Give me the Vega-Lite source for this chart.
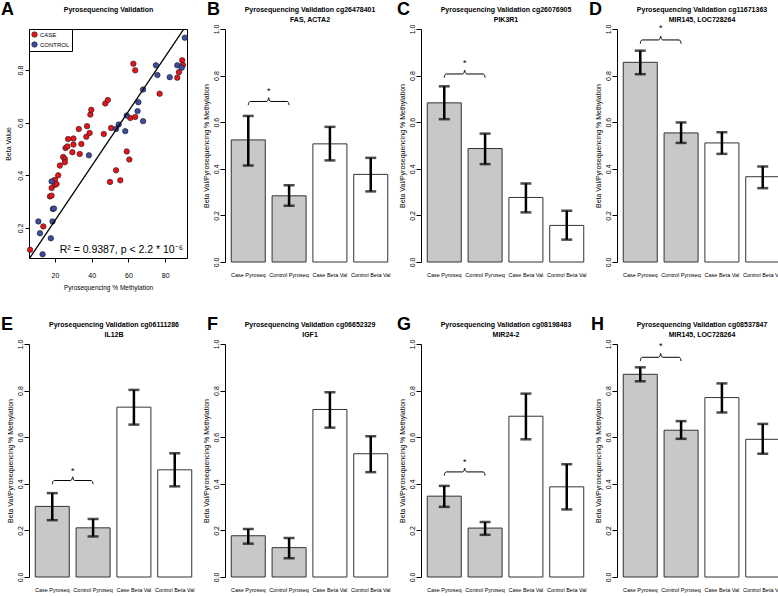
{
  "$schema": "https://vega.github.io/schema/vega-lite/v6.json",
  "background": "white",
  "padding": {"left": 0, "top": 0, "right": 0, "bottom": 0},
  "config": {
    "view": {"stroke": null},
    "font": "Liberation Sans",
    "title": {"font": "Liberation Sans", "fontSize": 18, "fontWeight": "bold", "anchor": "start", "frame": "bounds", "offset": 0, "dy": 18, "color": "black", "baseline": "alphabetic"},
    "axis": {"domainColor": "black", "tickColor": "black", "labelColor": "black", "titleColor": "black", "grid": false, "labelFont": "Liberation Sans", "labelFontSize": 7, "titleFont": "Liberation Sans", "titleFontSize": 7, "titleFontWeight": "normal", "tickSize": 5, "domainWidth": 1, "tickWidth": 1},
    "axisBand": {"domain": false, "ticks": false, "labelPadding": 10, "labelAngle": 0, "labelFont": "Liberation Sans", "labelFontSize": 5.5},
    "axisY": {"labelAngle": -90, "labelPadding": 1, "titlePadding": 3},
    "axisTop": {"labels": false, "ticks": false, "domain": false, "titlePadding": 7, "titleFont": "Liberation Sans", "titleFontSize": 7, "titleFontWeight": "bold", "titleLineHeight": 10, "titleAnchor": "middle"}
  },
  "columns": 4,
  "bounds": "flush",
  "align": "all",
  "spacing": {"row": 82, "column": 27},
  "concat": [
    {
      "title": {"text": "A", "dx": -3},
      "width": 158,
      "height": 229,
      "view": {"stroke": "black", "strokeWidth": 1},
      "resolve": {"scale": {"x": "independent"}, "axis": {"x": "independent"}},
      "layer": [
        {
          "layer": [
            {
              "data": {"values": [
                {"pyro": 6.5, "beta": 0.117, "status": "CASE"},
                {"pyro": 13.7, "beta": 0.206, "status": "CASE"},
                {"pyro": 17.3, "beta": 0.32, "status": "CASE"},
                {"pyro": 18.2, "beta": 0.323, "status": "CASE"},
                {"pyro": 18.2, "beta": 0.352, "status": "CASE"},
                {"pyro": 20, "beta": 0.364, "status": "CASE"},
                {"pyro": 20, "beta": 0.383, "status": "CASE"},
                {"pyro": 20.9, "beta": 0.367, "status": "CASE"},
                {"pyro": 21.8, "beta": 0.4, "status": "CASE"},
                {"pyro": 22.7, "beta": 0.437, "status": "CASE"},
                {"pyro": 24.5, "beta": 0.47, "status": "CASE"},
                {"pyro": 25.4, "beta": 0.462, "status": "CASE"},
                {"pyro": 25.4, "beta": 0.45, "status": "CASE"},
                {"pyro": 25.8, "beta": 0.504, "status": "CASE"},
                {"pyro": 26.8, "beta": 0.51, "status": "CASE"},
                {"pyro": 27.2, "beta": 0.538, "status": "CASE"},
                {"pyro": 29.5, "beta": 0.488, "status": "CASE"},
                {"pyro": 30.1, "beta": 0.517, "status": "CASE"},
                {"pyro": 30.1, "beta": 0.54, "status": "CASE"},
                {"pyro": 33, "beta": 0.576, "status": "CASE"},
                {"pyro": 33.5, "beta": 0.481, "status": "CASE"},
                {"pyro": 34.4, "beta": 0.519, "status": "CASE"},
                {"pyro": 37.1, "beta": 0.547, "status": "CASE"},
                {"pyro": 37.5, "beta": 0.587, "status": "CASE"},
                {"pyro": 38.9, "beta": 0.561, "status": "CASE"},
                {"pyro": 39.3, "beta": 0.631, "status": "CASE"},
                {"pyro": 39.8, "beta": 0.649, "status": "CASE"},
                {"pyro": 46.6, "beta": 0.557, "status": "CASE"},
                {"pyro": 47.4, "beta": 0.673, "status": "CASE"},
                {"pyro": 48.8, "beta": 0.686, "status": "CASE"},
                {"pyro": 50, "beta": 0.375, "status": "CASE"},
                {"pyro": 50.6, "beta": 0.58, "status": "CASE"},
                {"pyro": 53.3, "beta": 0.419, "status": "CASE"},
                {"pyro": 55.6, "beta": 0.381, "status": "CASE"},
                {"pyro": 59.1, "beta": 0.491, "status": "CASE"},
                {"pyro": 60.5, "beta": 0.46, "status": "CASE"},
                {"pyro": 61, "beta": 0.618, "status": "CASE"},
                {"pyro": 63.7, "beta": 0.622, "status": "CASE"},
                {"pyro": 62.7, "beta": 0.824, "status": "CASE"},
                {"pyro": 63.7, "beta": 0.799, "status": "CASE"},
                {"pyro": 77, "beta": 0.71, "status": "CASE"},
                {"pyro": 86.6, "beta": 0.771, "status": "CASE"},
                {"pyro": 87.5, "beta": 0.792, "status": "CASE"},
                {"pyro": 89.3, "beta": 0.837, "status": "CASE"},
                {"pyro": 89.7, "beta": 0.819, "status": "CASE"},
                {"pyro": 11, "beta": 0.225, "status": "CONTROL"},
                {"pyro": 11.9, "beta": 0.18, "status": "CONTROL"},
                {"pyro": 13.3, "beta": 0.1, "status": "CONTROL"},
                {"pyro": 17.8, "beta": 0.161, "status": "CONTROL"},
                {"pyro": 18.7, "beta": 0.225, "status": "CONTROL"},
                {"pyro": 18.9, "beta": 0.272, "status": "CONTROL"},
                {"pyro": 19.5, "beta": 0.274, "status": "CONTROL"},
                {"pyro": 18.2, "beta": 0.377, "status": "CONTROL"},
                {"pyro": 38.5, "beta": 0.476, "status": "CONTROL"},
                {"pyro": 53.3, "beta": 0.576, "status": "CONTROL"},
                {"pyro": 54.7, "beta": 0.593, "status": "CONTROL"},
                {"pyro": 58.3, "beta": 0.568, "status": "CONTROL"},
                {"pyro": 59.1, "beta": 0.627, "status": "CONTROL"},
                {"pyro": 65, "beta": 0.644, "status": "CONTROL"},
                {"pyro": 65.4, "beta": 0.678, "status": "CONTROL"},
                {"pyro": 68, "beta": 0.606, "status": "CONTROL"},
                {"pyro": 68, "beta": 0.726, "status": "CONTROL"},
                {"pyro": 75, "beta": 0.818, "status": "CONTROL"},
                {"pyro": 75.8, "beta": 0.781, "status": "CONTROL"},
                {"pyro": 82.5, "beta": 0.773, "status": "CONTROL"},
                {"pyro": 86.6, "beta": 0.818, "status": "CONTROL"},
                {"pyro": 89, "beta": 0.809, "status": "CONTROL"},
                {"pyro": 90.7, "beta": 0.923, "status": "CONTROL"}
              ]},
              "mark": {"type": "circle", "size": 30, "opacity": 1, "stroke": "#1a1a1a", "strokeWidth": 0.6},
              "encoding": {
                "x": {"field": "pyro", "type": "quantitative", "title": "Pyrosequencing % Methylation", "scale": {"domain": [5.9, 91.9], "nice": false, "zero": false}, "axis": {"values": [20, 40, 60, 80], "domain": false, "tickSize": 4, "labelPadding": 9, "labelAngle": 0, "titlePadding": 6, "titleFontSize": 6.5}},
                "y": {"field": "beta", "type": "quantitative", "title": "Beta Value", "scale": {"domain": [0.086, 0.956], "nice": false, "zero": false}, "axis": {"values": [0.2, 0.4, 0.6, 0.8], "format": ".1f", "domain": false, "tickSize": 4, "labelPadding": 2, "titlePadding": 5}},
                "color": {"field": "status", "type": "nominal", "scale": {"domain": ["CASE", "CONTROL"], "range": ["#e8131b", "#3c4ca2"]}, "legend": {"orient": "top-left", "offset": 0, "title": null, "strokeColor": "black", "fillColor": "white", "padding": 2, "symbolSize": 30, "symbolType": "circle", "symbolStrokeColor": "#1a1a1a", "symbolStrokeWidth": 0.6, "labelFontSize": 6, "labelFont": "Liberation Sans", "rowPadding": 1, "labelOffset": 2}}
              }
            },
            {
              "data": {"values": [{"pyro": 4, "beta": 0.062}, {"pyro": 92, "beta": 0.975}]},
              "mark": {"type": "line", "color": "black", "strokeWidth": 1.3, "clip": true},
              "encoding": {
                "x": {"field": "pyro", "type": "quantitative", "title": "Pyrosequencing % Methylation"},
                "y": {"field": "beta", "type": "quantitative", "title": "Beta Value"}
              }
            },
            {
              "data": {"values": [{"pyro": 89.7, "beta": 0.105, "label": "R² = 0.9387, p < 2.2 * 10⁻⁶"}]},
              "mark": {"type": "text", "align": "right", "baseline": "alphabetic", "fontSize": 10.5, "font": "Liberation Sans"},
              "encoding": {
                "x": {"field": "pyro", "type": "quantitative", "title": "Pyrosequencing % Methylation"},
                "y": {"field": "beta", "type": "quantitative", "title": "Beta Value"},
                "text": {"field": "label"}
              }
            }
          ]
        },
        {
          "data": {"values": []},
          "mark": "text",
          "encoding": {"x": {"field": "t", "type": "quantitative", "title": "Pyrosequencing Validation", "scale": {"domain": [0, 1]}, "axis": {"orient": "top", "titlePadding": 17}}}
        }
      ]
    },
    {
      "title": {"text": "B", "dx": 5},
      "width": 169, "height": 233,
      "resolve": {"scale": {"x": "independent"}, "axis": {"x": "independent"}},
      "layer": [
        {
          "data": {"values": [
            {"group": "Case Pyroseq", "method": "Pyroseq", "mean": 0.524, "lo": 0.414, "hi": 0.627},
            {"group": "Control Pyroseq", "method": "Pyroseq", "mean": 0.284, "lo": 0.241, "hi": 0.329},
            {"group": "Case Beta Val", "method": "Beta Val", "mean": 0.507, "lo": 0.436, "hi": 0.58},
            {"group": "Control Beta Val", "method": "Beta Val", "mean": 0.376, "lo": 0.303, "hi": 0.447}
          ]},
          "layer": [
            {"mark": {"type": "bar", "stroke": "#333333", "strokeWidth": 1}, "encoding": {
              "x": {"field": "group", "type": "nominal", "sort": null, "title": null, "scale": {"paddingInner": 0.1667, "paddingOuter": 0.1533}},
              "y": {"field": "mean", "type": "quantitative", "title": "Beta Val/Pyrosequencing % Methylation", "scale": {"domain": [0, 1], "nice": false}, "axis": {"values": [0, 0.2, 0.4, 0.6, 0.8, 1], "format": ".1f"}},
              "color": {"condition": {"test": "datum.method === 'Pyroseq'", "value": "#c8c8c8"}, "value": "#ffffff"}}},
            {"mark": {"type": "rule", "strokeWidth": 2.5, "color": "black"}, "encoding": {
              "x": {"field": "group", "type": "nominal", "sort": null, "title": null},
              "y": {"field": "lo", "type": "quantitative", "title": "Beta Val/Pyrosequencing % Methylation"}, "y2": {"field": "hi"}}},
            {"mark": {"type": "tick", "thickness": 2.5, "size": 11, "color": "black"}, "encoding": {
              "x": {"field": "group", "type": "nominal", "sort": null, "title": null},
              "y": {"field": "lo", "type": "quantitative", "title": "Beta Val/Pyrosequencing % Methylation"}}},
            {"mark": {"type": "tick", "thickness": 2.5, "size": 11, "color": "black"}, "encoding": {
              "x": {"field": "group", "type": "nominal", "sort": null, "title": null},
              "y": {"field": "hi", "type": "quantitative", "title": "Beta Val/Pyrosequencing % Methylation"}}}
          ]
        },
        {
          "layer": [
            {"data": {"values": [
              {"bx": 0.70, "by": 0.673}, {"bx": 0.72, "by": 0.685}, {"bx": 0.76, "by": 0.689}, {"bx": 1.24, "by": 0.689}, {"bx": 1.28, "by": 0.695}, {"bx": 1.30, "by": 0.705}, {"bx": 1.32, "by": 0.695}, {"bx": 1.36, "by": 0.689}, {"bx": 1.84, "by": 0.689}, {"bx": 1.88, "by": 0.685}, {"bx": 1.90, "by": 0.673}
            ]},
              "mark": {"type": "line", "color": "black", "strokeWidth": 1, "interpolate": "monotone"},
              "encoding": {"x": {"field": "bx", "type": "quantitative", "title": ["Pyrosequencing Validation cg26478401", "FAS, ACTA2"], "scale": {"domain": [0.016, 4.984], "nice": false, "zero": false}, "axis": {"orient": "top"}},
                "y": {"field": "by", "type": "quantitative", "title": "Beta Val/Pyrosequencing % Methylation", "scale": {"domain": [0, 1], "nice": false}}}},
            {"data": {"values": [{"bx": 1.3, "by": 0.732, "label": "*"}]},
              "mark": {"type": "text", "fontSize": 9, "baseline": "middle"},
              "encoding": {"x": {"field": "bx", "type": "quantitative"}, "y": {"field": "by", "type": "quantitative", "title": "Beta Val/Pyrosequencing % Methylation"}, "text": {"field": "label"}}}
          ]
        }
      ]
    },
    {
      "title": {"text": "C", "dx": -1},
      "width": 169, "height": 233,
      "resolve": {"scale": {"x": "independent"}, "axis": {"x": "independent"}},
      "layer": [
        {
          "data": {"values": [
            {"group": "Case Pyroseq", "method": "Pyroseq", "mean": 0.683, "lo": 0.613, "hi": 0.754},
            {"group": "Control Pyroseq", "method": "Pyroseq", "mean": 0.487, "lo": 0.42, "hi": 0.551},
            {"group": "Case Beta Val", "method": "Beta Val", "mean": 0.277, "lo": 0.213, "hi": 0.337},
            {"group": "Control Beta Val", "method": "Beta Val", "mean": 0.157, "lo": 0.096, "hi": 0.22}
          ]},
          "layer": [
            {"mark": {"type": "bar", "stroke": "#333333", "strokeWidth": 1}, "encoding": {
              "x": {"field": "group", "type": "nominal", "sort": null, "title": null, "scale": {"paddingInner": 0.1667, "paddingOuter": 0.1533}},
              "y": {"field": "mean", "type": "quantitative", "title": "Beta Val/Pyrosequencing % Methylation", "scale": {"domain": [0, 1], "nice": false}, "axis": {"values": [0, 0.2, 0.4, 0.6, 0.8, 1], "format": ".1f"}},
              "color": {"condition": {"test": "datum.method === 'Pyroseq'", "value": "#c8c8c8"}, "value": "#ffffff"}}},
            {"mark": {"type": "rule", "strokeWidth": 2.5, "color": "black"}, "encoding": {
              "x": {"field": "group", "type": "nominal", "sort": null, "title": null},
              "y": {"field": "lo", "type": "quantitative", "title": "Beta Val/Pyrosequencing % Methylation"}, "y2": {"field": "hi"}}},
            {"mark": {"type": "tick", "thickness": 2.5, "size": 11, "color": "black"}, "encoding": {
              "x": {"field": "group", "type": "nominal", "sort": null, "title": null},
              "y": {"field": "lo", "type": "quantitative", "title": "Beta Val/Pyrosequencing % Methylation"}}},
            {"mark": {"type": "tick", "thickness": 2.5, "size": 11, "color": "black"}, "encoding": {
              "x": {"field": "group", "type": "nominal", "sort": null, "title": null},
              "y": {"field": "hi", "type": "quantitative", "title": "Beta Val/Pyrosequencing % Methylation"}}}
          ]
        },
        {
          "layer": [
            {"data": {"values": [
              {"bx": 0.70, "by": 0.791}, {"bx": 0.72, "by": 0.803}, {"bx": 0.76, "by": 0.807}, {"bx": 1.24, "by": 0.807}, {"bx": 1.28, "by": 0.813}, {"bx": 1.30, "by": 0.823}, {"bx": 1.32, "by": 0.813}, {"bx": 1.36, "by": 0.807}, {"bx": 1.84, "by": 0.807}, {"bx": 1.88, "by": 0.803}, {"bx": 1.90, "by": 0.791}
            ]},
              "mark": {"type": "line", "color": "black", "strokeWidth": 1, "interpolate": "monotone"},
              "encoding": {"x": {"field": "bx", "type": "quantitative", "title": ["Pyrosequencing Validation cg26076905", "PIK3R1"], "scale": {"domain": [0.016, 4.984], "nice": false, "zero": false}, "axis": {"orient": "top"}},
                "y": {"field": "by", "type": "quantitative", "title": "Beta Val/Pyrosequencing % Methylation", "scale": {"domain": [0, 1], "nice": false}}}},
            {"data": {"values": [{"bx": 1.3, "by": 0.852, "label": "*"}]},
              "mark": {"type": "text", "fontSize": 9, "baseline": "middle"},
              "encoding": {"x": {"field": "bx", "type": "quantitative"}, "y": {"field": "by", "type": "quantitative", "title": "Beta Val/Pyrosequencing % Methylation"}, "text": {"field": "label"}}}
          ]
        }
      ]
    },
    {
      "title": {"text": "D", "dx": -5},
      "width": 169, "height": 233,
      "resolve": {"scale": {"x": "independent"}, "axis": {"x": "independent"}},
      "layer": [
        {
          "data": {"values": [
            {"group": "Case Pyroseq", "method": "Pyroseq", "mean": 0.857, "lo": 0.806, "hi": 0.907},
            {"group": "Control Pyroseq", "method": "Pyroseq", "mean": 0.554, "lo": 0.511, "hi": 0.599},
            {"group": "Case Beta Val", "method": "Beta Val", "mean": 0.511, "lo": 0.464, "hi": 0.557},
            {"group": "Control Beta Val", "method": "Beta Val", "mean": 0.366, "lo": 0.317, "hi": 0.41}
          ]},
          "layer": [
            {"mark": {"type": "bar", "stroke": "#333333", "strokeWidth": 1}, "encoding": {
              "x": {"field": "group", "type": "nominal", "sort": null, "title": null, "scale": {"paddingInner": 0.1667, "paddingOuter": 0.1533}},
              "y": {"field": "mean", "type": "quantitative", "title": "Beta Val/Pyrosequencing % Methylation", "scale": {"domain": [0, 1], "nice": false}, "axis": {"values": [0, 0.2, 0.4, 0.6, 0.8, 1], "format": ".1f"}},
              "color": {"condition": {"test": "datum.method === 'Pyroseq'", "value": "#c8c8c8"}, "value": "#ffffff"}}},
            {"mark": {"type": "rule", "strokeWidth": 2.5, "color": "black"}, "encoding": {
              "x": {"field": "group", "type": "nominal", "sort": null, "title": null},
              "y": {"field": "lo", "type": "quantitative", "title": "Beta Val/Pyrosequencing % Methylation"}, "y2": {"field": "hi"}}},
            {"mark": {"type": "tick", "thickness": 2.5, "size": 11, "color": "black"}, "encoding": {
              "x": {"field": "group", "type": "nominal", "sort": null, "title": null},
              "y": {"field": "lo", "type": "quantitative", "title": "Beta Val/Pyrosequencing % Methylation"}}},
            {"mark": {"type": "tick", "thickness": 2.5, "size": 11, "color": "black"}, "encoding": {
              "x": {"field": "group", "type": "nominal", "sort": null, "title": null},
              "y": {"field": "hi", "type": "quantitative", "title": "Beta Val/Pyrosequencing % Methylation"}}}
          ]
        },
        {
          "layer": [
            {"data": {"values": [
              {"bx": 0.70, "by": 0.937}, {"bx": 0.72, "by": 0.949}, {"bx": 0.76, "by": 0.953}, {"bx": 1.24, "by": 0.953}, {"bx": 1.28, "by": 0.959}, {"bx": 1.30, "by": 0.969}, {"bx": 1.32, "by": 0.959}, {"bx": 1.36, "by": 0.953}, {"bx": 1.84, "by": 0.953}, {"bx": 1.88, "by": 0.949}, {"bx": 1.90, "by": 0.937}
            ]},
              "mark": {"type": "line", "color": "black", "strokeWidth": 1, "interpolate": "monotone"},
              "encoding": {"x": {"field": "bx", "type": "quantitative", "title": ["Pyrosequencing Validation cg11671363", "MIR145, LOC728264"], "scale": {"domain": [0.016, 4.984], "nice": false, "zero": false}, "axis": {"orient": "top"}},
                "y": {"field": "by", "type": "quantitative", "title": "Beta Val/Pyrosequencing % Methylation", "scale": {"domain": [0, 1], "nice": false}}}},
            {"data": {"values": [{"bx": 1.3, "by": 1.005, "label": "*"}]},
              "mark": {"type": "text", "fontSize": 9, "baseline": "middle"},
              "encoding": {"x": {"field": "bx", "type": "quantitative"}, "y": {"field": "by", "type": "quantitative", "title": "Beta Val/Pyrosequencing % Methylation"}, "text": {"field": "label"}}}
          ]
        }
      ]
    },
    {
      "title": {"text": "E", "dx": -5},
      "width": 169, "height": 233,
      "resolve": {"scale": {"x": "independent"}, "axis": {"x": "independent"}},
      "layer": [
        {
          "data": {"values": [
            {"group": "Case Pyroseq", "method": "Pyroseq", "mean": 0.303, "lo": 0.244, "hi": 0.36},
            {"group": "Control Pyroseq", "method": "Pyroseq", "mean": 0.211, "lo": 0.174, "hi": 0.249},
            {"group": "Case Beta Val", "method": "Beta Val", "mean": 0.729, "lo": 0.654, "hi": 0.803},
            {"group": "Control Beta Val", "method": "Beta Val", "mean": 0.46, "lo": 0.389, "hi": 0.531}
          ]},
          "layer": [
            {"mark": {"type": "bar", "stroke": "#333333", "strokeWidth": 1}, "encoding": {
              "x": {"field": "group", "type": "nominal", "sort": null, "title": null, "scale": {"paddingInner": 0.1667, "paddingOuter": 0.1533}},
              "y": {"field": "mean", "type": "quantitative", "title": "Beta Val/Pyrosequencing % Methylation", "scale": {"domain": [0, 1], "nice": false}, "axis": {"values": [0, 0.2, 0.4, 0.6, 0.8, 1], "format": ".1f"}},
              "color": {"condition": {"test": "datum.method === 'Pyroseq'", "value": "#c8c8c8"}, "value": "#ffffff"}}},
            {"mark": {"type": "rule", "strokeWidth": 2.5, "color": "black"}, "encoding": {
              "x": {"field": "group", "type": "nominal", "sort": null, "title": null},
              "y": {"field": "lo", "type": "quantitative", "title": "Beta Val/Pyrosequencing % Methylation"}, "y2": {"field": "hi"}}},
            {"mark": {"type": "tick", "thickness": 2.5, "size": 11, "color": "black"}, "encoding": {
              "x": {"field": "group", "type": "nominal", "sort": null, "title": null},
              "y": {"field": "lo", "type": "quantitative", "title": "Beta Val/Pyrosequencing % Methylation"}}},
            {"mark": {"type": "tick", "thickness": 2.5, "size": 11, "color": "black"}, "encoding": {
              "x": {"field": "group", "type": "nominal", "sort": null, "title": null},
              "y": {"field": "hi", "type": "quantitative", "title": "Beta Val/Pyrosequencing % Methylation"}}}
          ]
        },
        {
          "layer": [
            {"data": {"values": [
              {"bx": 0.70, "by": 0.398}, {"bx": 0.72, "by": 0.41}, {"bx": 0.76, "by": 0.414}, {"bx": 1.24, "by": 0.414}, {"bx": 1.28, "by": 0.42}, {"bx": 1.30, "by": 0.43}, {"bx": 1.32, "by": 0.42}, {"bx": 1.36, "by": 0.414}, {"bx": 1.84, "by": 0.414}, {"bx": 1.88, "by": 0.41}, {"bx": 1.90, "by": 0.398}
            ]},
              "mark": {"type": "line", "color": "black", "strokeWidth": 1, "interpolate": "monotone"},
              "encoding": {"x": {"field": "bx", "type": "quantitative", "title": ["Pyrosequencing Validation cg06111286", "IL12B"], "scale": {"domain": [0.016, 4.984], "nice": false, "zero": false}, "axis": {"orient": "top"}},
                "y": {"field": "by", "type": "quantitative", "title": "Beta Val/Pyrosequencing % Methylation", "scale": {"domain": [0, 1], "nice": false}}}},
            {"data": {"values": [{"bx": 1.3, "by": 0.455, "label": "*"}]},
              "mark": {"type": "text", "fontSize": 9, "baseline": "middle"},
              "encoding": {"x": {"field": "bx", "type": "quantitative"}, "y": {"field": "by", "type": "quantitative", "title": "Beta Val/Pyrosequencing % Methylation"}, "text": {"field": "label"}}}
          ]
        }
      ]
    },
    {
      "title": {"text": "F", "dx": 5},
      "width": 169, "height": 233,
      "resolve": {"scale": {"x": "independent"}, "axis": {"x": "independent"}},
      "layer": [
        {
          "data": {"values": [
            {"group": "Case Pyroseq", "method": "Pyroseq", "mean": 0.177, "lo": 0.143, "hi": 0.206},
            {"group": "Control Pyroseq", "method": "Pyroseq", "mean": 0.126, "lo": 0.081, "hi": 0.167},
            {"group": "Case Beta Val", "method": "Beta Val", "mean": 0.719, "lo": 0.641, "hi": 0.793},
            {"group": "Control Beta Val", "method": "Beta Val", "mean": 0.529, "lo": 0.45, "hi": 0.604}
          ]},
          "layer": [
            {"mark": {"type": "bar", "stroke": "#333333", "strokeWidth": 1}, "encoding": {
              "x": {"field": "group", "type": "nominal", "sort": null, "title": null, "scale": {"paddingInner": 0.1667, "paddingOuter": 0.1533}},
              "y": {"field": "mean", "type": "quantitative", "title": "Beta Val/Pyrosequencing % Methylation", "scale": {"domain": [0, 1], "nice": false}, "axis": {"values": [0, 0.2, 0.4, 0.6, 0.8, 1], "format": ".1f"}},
              "color": {"condition": {"test": "datum.method === 'Pyroseq'", "value": "#c8c8c8"}, "value": "#ffffff"}}},
            {"mark": {"type": "rule", "strokeWidth": 2.5, "color": "black"}, "encoding": {
              "x": {"field": "group", "type": "nominal", "sort": null, "title": null},
              "y": {"field": "lo", "type": "quantitative", "title": "Beta Val/Pyrosequencing % Methylation"}, "y2": {"field": "hi"}}},
            {"mark": {"type": "tick", "thickness": 2.5, "size": 11, "color": "black"}, "encoding": {
              "x": {"field": "group", "type": "nominal", "sort": null, "title": null},
              "y": {"field": "lo", "type": "quantitative", "title": "Beta Val/Pyrosequencing % Methylation"}}},
            {"mark": {"type": "tick", "thickness": 2.5, "size": 11, "color": "black"}, "encoding": {
              "x": {"field": "group", "type": "nominal", "sort": null, "title": null},
              "y": {"field": "hi", "type": "quantitative", "title": "Beta Val/Pyrosequencing % Methylation"}}}
          ]
        },
        {
          "data": {"values": []},
          "mark": "text",
          "encoding": {"x": {"field": "bx", "type": "quantitative", "title": ["Pyrosequencing Validation cg06652329", "IGF1"], "scale": {"domain": [0.016, 4.984], "nice": false, "zero": false}, "axis": {"orient": "top"}}}
        }
      ]
    },
    {
      "title": {"text": "G", "dx": -1},
      "width": 169, "height": 233,
      "resolve": {"scale": {"x": "independent"}, "axis": {"x": "independent"}},
      "layer": [
        {
          "data": {"values": [
            {"group": "Case Pyroseq", "method": "Pyroseq", "mean": 0.347, "lo": 0.301, "hi": 0.391},
            {"group": "Control Pyroseq", "method": "Pyroseq", "mean": 0.21, "lo": 0.181, "hi": 0.236},
            {"group": "Case Beta Val", "method": "Beta Val", "mean": 0.69, "lo": 0.591, "hi": 0.787},
            {"group": "Control Beta Val", "method": "Beta Val", "mean": 0.387, "lo": 0.29, "hi": 0.484}
          ]},
          "layer": [
            {"mark": {"type": "bar", "stroke": "#333333", "strokeWidth": 1}, "encoding": {
              "x": {"field": "group", "type": "nominal", "sort": null, "title": null, "scale": {"paddingInner": 0.1667, "paddingOuter": 0.1533}},
              "y": {"field": "mean", "type": "quantitative", "title": "Beta Val/Pyrosequencing % Methylation", "scale": {"domain": [0, 1], "nice": false}, "axis": {"values": [0, 0.2, 0.4, 0.6, 0.8, 1], "format": ".1f"}},
              "color": {"condition": {"test": "datum.method === 'Pyroseq'", "value": "#c8c8c8"}, "value": "#ffffff"}}},
            {"mark": {"type": "rule", "strokeWidth": 2.5, "color": "black"}, "encoding": {
              "x": {"field": "group", "type": "nominal", "sort": null, "title": null},
              "y": {"field": "lo", "type": "quantitative", "title": "Beta Val/Pyrosequencing % Methylation"}, "y2": {"field": "hi"}}},
            {"mark": {"type": "tick", "thickness": 2.5, "size": 11, "color": "black"}, "encoding": {
              "x": {"field": "group", "type": "nominal", "sort": null, "title": null},
              "y": {"field": "lo", "type": "quantitative", "title": "Beta Val/Pyrosequencing % Methylation"}}},
            {"mark": {"type": "tick", "thickness": 2.5, "size": 11, "color": "black"}, "encoding": {
              "x": {"field": "group", "type": "nominal", "sort": null, "title": null},
              "y": {"field": "hi", "type": "quantitative", "title": "Beta Val/Pyrosequencing % Methylation"}}}
          ]
        },
        {
          "layer": [
            {"data": {"values": [
              {"bx": 0.70, "by": 0.435}, {"bx": 0.72, "by": 0.447}, {"bx": 0.76, "by": 0.451}, {"bx": 1.24, "by": 0.451}, {"bx": 1.28, "by": 0.457}, {"bx": 1.30, "by": 0.467}, {"bx": 1.32, "by": 0.457}, {"bx": 1.36, "by": 0.451}, {"bx": 1.84, "by": 0.451}, {"bx": 1.88, "by": 0.447}, {"bx": 1.90, "by": 0.435}
            ]},
              "mark": {"type": "line", "color": "black", "strokeWidth": 1, "interpolate": "monotone"},
              "encoding": {"x": {"field": "bx", "type": "quantitative", "title": ["Pyrosequencing Validation cg08198483", "MIR24-2"], "scale": {"domain": [0.016, 4.984], "nice": false, "zero": false}, "axis": {"orient": "top"}},
                "y": {"field": "by", "type": "quantitative", "title": "Beta Val/Pyrosequencing % Methylation", "scale": {"domain": [0, 1], "nice": false}}}},
            {"data": {"values": [{"bx": 1.3, "by": 0.495, "label": "*"}]},
              "mark": {"type": "text", "fontSize": 9, "baseline": "middle"},
              "encoding": {"x": {"field": "bx", "type": "quantitative"}, "y": {"field": "by", "type": "quantitative", "title": "Beta Val/Pyrosequencing % Methylation"}, "text": {"field": "label"}}}
          ]
        }
      ]
    },
    {
      "title": {"text": "H", "dx": -3},
      "width": 169, "height": 233,
      "resolve": {"scale": {"x": "independent"}, "axis": {"x": "independent"}},
      "layer": [
        {
          "data": {"values": [
            {"group": "Case Pyroseq", "method": "Pyroseq", "mean": 0.87, "lo": 0.84, "hi": 0.9},
            {"group": "Control Pyroseq", "method": "Pyroseq", "mean": 0.63, "lo": 0.593, "hi": 0.669},
            {"group": "Case Beta Val", "method": "Beta Val", "mean": 0.77, "lo": 0.706, "hi": 0.831},
            {"group": "Control Beta Val", "method": "Beta Val", "mean": 0.591, "lo": 0.529, "hi": 0.657}
          ]},
          "layer": [
            {"mark": {"type": "bar", "stroke": "#333333", "strokeWidth": 1}, "encoding": {
              "x": {"field": "group", "type": "nominal", "sort": null, "title": null, "scale": {"paddingInner": 0.1667, "paddingOuter": 0.1533}},
              "y": {"field": "mean", "type": "quantitative", "title": "Beta Val/Pyrosequencing % Methylation", "scale": {"domain": [0, 1], "nice": false}, "axis": {"values": [0, 0.2, 0.4, 0.6, 0.8, 1], "format": ".1f"}},
              "color": {"condition": {"test": "datum.method === 'Pyroseq'", "value": "#c8c8c8"}, "value": "#ffffff"}}},
            {"mark": {"type": "rule", "strokeWidth": 2.5, "color": "black"}, "encoding": {
              "x": {"field": "group", "type": "nominal", "sort": null, "title": null},
              "y": {"field": "lo", "type": "quantitative", "title": "Beta Val/Pyrosequencing % Methylation"}, "y2": {"field": "hi"}}},
            {"mark": {"type": "tick", "thickness": 2.5, "size": 11, "color": "black"}, "encoding": {
              "x": {"field": "group", "type": "nominal", "sort": null, "title": null},
              "y": {"field": "lo", "type": "quantitative", "title": "Beta Val/Pyrosequencing % Methylation"}}},
            {"mark": {"type": "tick", "thickness": 2.5, "size": 11, "color": "black"}, "encoding": {
              "x": {"field": "group", "type": "nominal", "sort": null, "title": null},
              "y": {"field": "hi", "type": "quantitative", "title": "Beta Val/Pyrosequencing % Methylation"}}}
          ]
        },
        {
          "layer": [
            {"data": {"values": [
              {"bx": 0.70, "by": 0.927}, {"bx": 0.72, "by": 0.939}, {"bx": 0.76, "by": 0.943}, {"bx": 1.24, "by": 0.943}, {"bx": 1.28, "by": 0.949}, {"bx": 1.30, "by": 0.959}, {"bx": 1.32, "by": 0.949}, {"bx": 1.36, "by": 0.943}, {"bx": 1.84, "by": 0.943}, {"bx": 1.88, "by": 0.939}, {"bx": 1.90, "by": 0.927}
            ]},
              "mark": {"type": "line", "color": "black", "strokeWidth": 1, "interpolate": "monotone"},
              "encoding": {"x": {"field": "bx", "type": "quantitative", "title": ["Pyrosequencing Validation cg08537847", "MIR145, LOC728264"], "scale": {"domain": [0.016, 4.984], "nice": false, "zero": false}, "axis": {"orient": "top"}},
                "y": {"field": "by", "type": "quantitative", "title": "Beta Val/Pyrosequencing % Methylation", "scale": {"domain": [0, 1], "nice": false}}}},
            {"data": {"values": [{"bx": 1.3, "by": 0.992, "label": "*"}]},
              "mark": {"type": "text", "fontSize": 9, "baseline": "middle"},
              "encoding": {"x": {"field": "bx", "type": "quantitative"}, "y": {"field": "by", "type": "quantitative", "title": "Beta Val/Pyrosequencing % Methylation"}, "text": {"field": "label"}}}
          ]
        }
      ]
    }
  ]
}
